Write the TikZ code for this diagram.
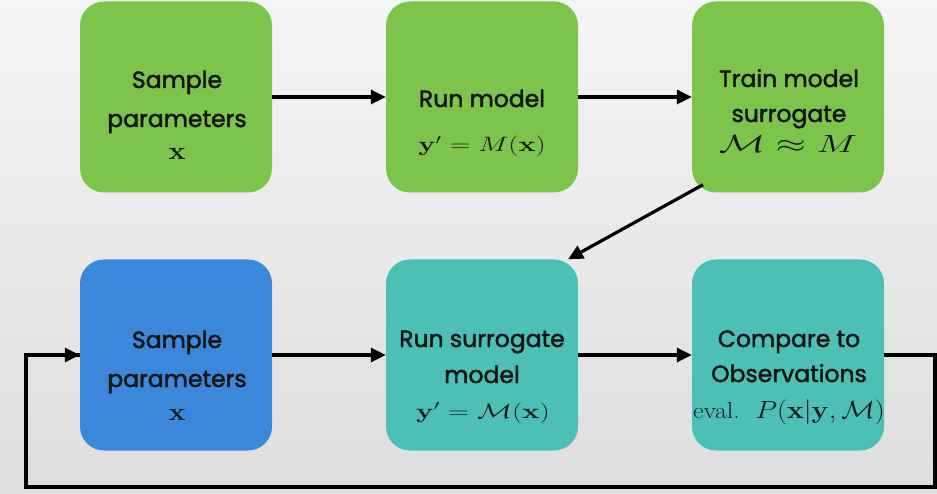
\documentclass[tikz,border=0pt]{standalone}
\usepackage{amsmath}
\usepackage{graphicx}
\usepackage[no-math]{fontspec}
\newfontfamily\boxfont{Poppins}[FakeBold=2]
\usetikzlibrary{arrows.meta}
\definecolor{gbox}{HTML}{7CC44C}
\definecolor{bbox}{HTML}{3A87DB}
\definecolor{tbox}{HTML}{4DC0B6}
\definecolor{ink}{HTML}{161616}
\newcommand{\mth}[3]{\scalebox{#2}[1]{\fontsize{#1}{#1}\selectfont$#3$}}
\begin{document}
\begin{tikzpicture}[x=1pt,y=-1pt,
  stepbox/.style={rounded corners=24pt, minimum width=192pt, minimum height=191pt, inner sep=0pt},
  lbl/.style={anchor=base, inner sep=0pt, text=ink, font={\boxfont\fontsize{23.5}{28}\selectfont}},
  mlbl/.style={anchor=base, inner sep=0pt, text=ink},
  conn/.style={line width=3.2pt, draw=black, -{Triangle[length=15pt,width=14pt]}},
  loopline/.style={line width=3.2pt, draw=black}]
\useasboundingbox (0,0) rectangle (937,494);
\shade[top color=white!96!black, bottom color=black!13] (0,0) rectangle (937,494);
% boxes
\node[stepbox, fill=gbox] (b1) at (176,97) {};
\node[stepbox, fill=gbox] (b2) at (482,97) {};
\node[stepbox, fill=gbox] (b3) at (788,97) {};
\node[stepbox, fill=bbox] (b4) at (176,355) {};
\node[stepbox, fill=tbox] (b5) at (482,355) {};
\node[stepbox, fill=tbox] (b6) at (788,355) {};
% texts box 1
\node[lbl] (t1a) at (177,88) {Sample};
\node[lbl] (t1b) at (177,127) {parameters};
\node[mlbl] (t1c) at (177,160) {\mth{30}{1.15}{\mathbf{x}}};
% box 2
\node[lbl] (t2a) at (482,107) {Run model};
\node[mlbl] (t2b) at (482,152) {\mth{21}{1.38}{\mathbf{y}'=M(\mathbf{x})}};
% box 3
\node[lbl] (t3a) at (789,87) {Train model};
\node[lbl] (t3b) at (789,122) {surrogate};
\node[mlbl] (t3c) at (788,153) {\mth{23}{1.55}{\mathcal{M}\approx M}};
% box 4
\node[lbl] (t4a) at (177,348) {Sample};
\node[lbl] (t4b) at (177,387) {parameters};
\node[mlbl] (t4c) at (177,420) {\mth{30}{1.15}{\mathbf{x}}};
% box 5
\node[lbl] (t5a) at (482,347) {Run surrogate};
\node[lbl] (t5b) at (482,383) {model};
\node[mlbl] (t5c) at (483,418) {\mth{22}{1.4}{\mathbf{y}'=\mathcal{M}(\mathbf{x})}};
% box 6
\node[lbl] (t6a) at (789,347) {Compare to};
\node[lbl] (t6b) at (789,382) {Observations};
\node[mlbl] (t6c) at (789,418) {\scalebox{1.13}[1]{\fontsize{23}{23}\selectfont eval.\ \ $P(\mathbf{x}|\mathbf{y},\mathcal{M})$}};
% connectors
\coordinate (r1) at (935,355);
\coordinate (r2) at (935,487);
\coordinate (l1) at (26,487);
\coordinate (l2) at (26,355);
\draw[conn] (b1.east) -- (b2.west);
\draw[conn] (b2.east) -- (b3.west);
\draw[conn] (b4.east) -- (b5.west);
\draw[conn] (b5.east) -- (b6.west);
\draw[conn] ([xshift=-85pt,yshift=8pt]b3.south) -- ([xshift=86pt]b5.north);
\draw[loopline] (b6.east) -- (r1) -- (r2) -- (l1) -- (l2) -- (b4.west);
\draw[conn] (l2) -- (b4.west);
\end{tikzpicture}
\end{document}
